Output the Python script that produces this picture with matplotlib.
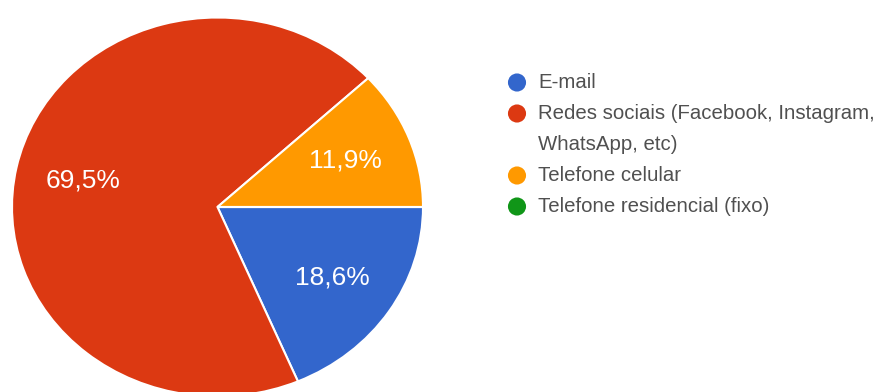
"""Pie chart of preferred contact channel, Google-Forms style."""

import matplotlib

matplotlib.use("Agg")
import matplotlib.pyplot as plt

CATEGORIES = [
    "E-mail",
    "Redes sociais (Facebook, Instagram,\nWhatsApp, etc)",
    "Telefone celular",
    "Telefone residencial (fixo)",
]
SHARES = [18.6, 69.5, 11.9, 0.0]
COLORS = ["#3366cc", "#dc3912", "#ff9900", "#109618"]

W, H, DPI = 889, 392, 100

plt.rcParams["font.family"] = ["Liberation Sans", "DejaVu Sans"]

fig = plt.figure(figsize=(W / DPI, H / DPI), dpi=DPI)
fig.patch.set_facecolor("white")

# pie axes placed in pixels: centre (217.5, 207 from top), radii 205.5 x 189.5
cx, cy, rx, ry = 217.5, 207.0, 205.5, 189.5
lim = 1.1
ax = fig.add_axes([(cx - lim * rx) / W, (H - cy - lim * ry) / H,
                   2 * lim * rx / W, 2 * lim * ry / H])


def pct_label(p):
    return "" if p < 0.5 else f"{p:.1f}%".replace(".", ",")


wedges, _, autotexts = ax.pie(
    SHARES, colors=COLORS, startangle=0, counterclock=False,
    autopct=pct_label, pctdistance=0.67,
    wedgeprops=dict(edgecolor="white", linewidth=1.5),
    textprops=dict(color="white", fontsize=19),
)
ax.set_aspect("auto")
ax.set_xlim(-lim, lim)
ax.set_ylim(-lim, lim)
ax.axis("off")

# legend: coloured dots + labels, wrapped labels take extra lines
lax = fig.add_axes([0, 0, 1, 1])
lax.set_xlim(0, W)
lax.set_ylim(H, 0)
lax.axis("off")
line_h = 31
y = 82.5
for label, color in zip(CATEGORIES, COLORS):
    lax.scatter([517], [y], s=170, color=color, edgecolor="none")
    for line in label.split("\n"):
        lax.text(538, y, line, fontsize=14.7, color="#505050", va="center")
        y += line_h

fig.savefig("out.png", dpi=DPI, facecolor="white")
